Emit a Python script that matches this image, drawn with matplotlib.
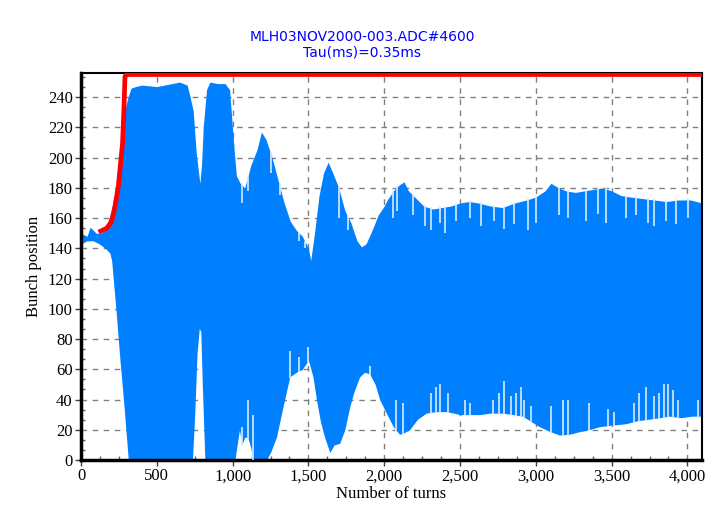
import numpy as np
import matplotlib
matplotlib.use("Agg")
import matplotlib.pyplot as plt
from matplotlib.ticker import MultipleLocator, FuncFormatter

# Envelope of the bunch position signal
upper_turns = [0, 40, 60, 100, 130, 160, 200, 230, 250, 270, 290, 310, 330, 360, 400, 500,
               550, 600, 650, 700, 720, 740, 760, 784, 795, 806, 828, 850, 900, 950, 980,
               995, 1010, 1025, 1050, 1080, 1120, 1160, 1190, 1220, 1260, 1300, 1340, 1380,
               1420, 1460, 1500, 1515, 1540, 1570, 1600, 1630, 1660, 1700, 1740, 1780, 1820,
               1850, 1880, 1920, 1960, 2000, 2020, 2060, 2100, 2130, 2160, 2200, 2260, 2320,
               2380, 2440, 2500, 2560, 2620, 2700, 2780, 2860, 2940, 3000, 3060, 3100, 3150,
               3200, 3260, 3320, 3380, 3440, 3500, 3560, 3620, 3700, 3780, 3860, 3940, 4020,
               4096]
upper_vals = [150, 148, 154, 150, 150, 152, 165, 180, 195, 215, 232, 240, 246, 247, 248, 247,
              248, 249, 250, 248, 240, 231, 203, 183, 195, 220, 245, 250, 249, 249, 245,
              225, 205, 188, 183, 180, 195, 205, 217, 212, 200, 185, 170, 158,
              152, 148, 140, 132, 150, 175, 190, 197, 190, 180, 165, 157, 145,
              141, 143, 152, 162, 168, 172, 178, 182, 184, 178, 174, 168, 166,
              167, 168, 170, 171, 170, 168, 167, 170, 172, 174, 178, 183, 180,
              178, 177, 178, 179, 180, 178, 175, 174, 173, 172, 171, 172, 172,
              170]

lower_turns = [0, 40, 80, 120, 160, 190, 202, 230, 257, 280, 300, 312, 735, 750, 765, 780,
               790, 800, 817, 1015, 1030, 1045, 1060, 1080, 1100, 1120, 1135, 1223, 1250,
               1289, 1332, 1377, 1420, 1460, 1500, 1530, 1553, 1580, 1607, 1641, 1670, 1706,
               1740, 1772, 1800, 1838, 1870, 1904, 1940, 1970, 2014, 2060, 2101, 2130, 2167,
               2220, 2277, 2340, 2409, 2460, 2497, 2560, 2629, 2700, 2780, 2850, 2912, 2960,
               3024, 3090, 3155, 3220, 3287, 3350, 3419, 3500, 3595, 3670, 3748, 3820, 3880,
               3960, 4030, 4096]
lower_vals = [143, 145, 145, 143, 140, 137, 132, 100, 66, 40, 15, 0, 0, 30, 70, 87,
              85, 50, 0, 0, 10, 20, 10, 15, 15, 8, 0, 0, 5,
              15, 35, 55, 58, 60, 66, 55, 40, 25, 15, 5, 10, 11,
              20, 35, 45, 55, 58, 57, 50, 40, 31, 22, 17, 18, 20,
              27, 31, 32, 32, 31, 30, 30, 30, 31, 31, 30, 29, 26,
              22, 19, 16.5, 17, 18.7, 20, 22, 23, 24, 26, 27, 28, 29,
              28, 29, 29]

# Single-turn dips visible on the upper edge (turn, lowest value)
dip_turns = [1060, 1100, 1250, 1310, 1440, 1480, 1700, 1760, 2057, 2082, 2189, 2266,
             2310, 2365, 2398, 2475, 2563, 2640, 2727, 2793, 2859, 2947, 3002, 3155, 3210,
             3331, 3408, 3463, 3595, 3661, 3737, 3781, 3858, 3924, 4001]
dip_vals = [170, 178, 190, 175, 145, 140, 160, 152, 160, 165, 162, 155, 152, 157, 150,
            158, 160, 155, 158, 153, 156, 152, 157, 162, 160, 158, 163, 157, 160, 162, 157,
            155, 158, 156, 160]

# Single-turn peaks visible on the lower edge (turn, highest value)
peak_turns = [1060, 1100, 1135, 1380, 1440, 1500, 1904, 2079, 2123, 2310, 2343, 2365, 2420,
              2530, 2563, 2716, 2760, 2793, 2837, 2870, 2903, 2925, 2969, 3101, 3178, 3210,
              3353, 3474, 3518, 3650, 3683, 3727, 3782, 3815, 3848, 3870, 3903, 3936, 4067]
peak_vals = [22, 40, 30, 72, 68, 75, 62, 40, 38, 44, 48, 50, 44, 40, 38, 40, 44, 52, 42, 44,
             48, 40, 36, 36, 40, 40, 38, 34, 32, 38, 44, 48, 42, 44, 50, 50, 46, 40, 40]

# Threshold (red) curve
red_turns = [116, 169, 202, 224, 246, 261, 274, 283, 290, 300, 4096]
red_vals = [150.7, 153.3, 157.7, 167.7, 180.9, 196.3, 209.5, 231.6, 253.7, 255, 255]

title1 = "MLH03NOV2000-003.ADC#4600"
title2 = "Tau(ms)=0.35ms"

fig = plt.figure(figsize=(7.15, 5.21), dpi=100)
ax = fig.add_axes([0.1133, 0.1171, 0.8685, 0.7428])

xs = np.unique(np.array(upper_turns + lower_turns))
up = np.interp(xs, upper_turns, upper_vals)
lo = np.interp(xs, lower_turns, lower_vals)
ax.fill_between(xs, lo, up, color="#0080ff", linewidth=0, zorder=2)

# dips and peaks as thin light lines cut into the band
dip_top = np.interp(dip_turns, upper_turns, upper_vals)
ax.vlines(dip_turns, dip_vals, dip_top + 1, color="#d8ecff", linewidth=1.2, zorder=3)
peak_bot = np.interp(peak_turns, lower_turns, lower_vals)
ax.vlines(peak_turns, peak_bot - 1, peak_vals, color="#d8ecff", linewidth=1.2, zorder=3)

ax.plot(red_turns, red_vals, color="#ff0000", linewidth=3.4, zorder=4, solid_capstyle="butt")

ax.set_xlim(0, 4096)
ax.set_ylim(0, 256)
ax.xaxis.set_major_locator(MultipleLocator(500))
ax.xaxis.set_minor_locator(MultipleLocator(125))
ax.yaxis.set_major_locator(MultipleLocator(20))
ax.yaxis.set_minor_locator(MultipleLocator(20 / 3))
ax.xaxis.set_major_formatter(FuncFormatter(lambda v, p: f"{int(v):,}"))

ax.grid(True, which="major", color="#808080", linestyle=(0, (4, 4)), linewidth=1, zorder=1)
ax.set_axisbelow(True)

ax.tick_params(axis="both", which="major", direction="out", length=4, width=1,
               labelsize=12, color="#404040", pad=2)
ax.tick_params(axis="both", which="minor", direction="in", length=3, width=1, color="#606060")
for lab in ax.get_xticklabels() + ax.get_yticklabels():
    lab.set_fontfamily("Liberation Serif")

for s in ["left", "bottom"]:
    ax.spines[s].set_linewidth(2.5)
    ax.spines[s].set_color("black")
ax.spines["top"].set_linewidth(1.5)
ax.spines["right"].set_linewidth(1.5)

ax.set_xlabel("Number of turns", fontsize=12, family="Liberation Serif", labelpad=1)
ax.set_ylabel("Bunch position", fontsize=12, family="Liberation Serif", labelpad=4)

fig.text(362 / 715, 1 - 37 / 521, title1, color="#0000ff", fontsize=10,
         ha="center", va="center", family="DejaVu Sans")
fig.text(362 / 715, 1 - 52 / 521, title2, color="#0000ff", fontsize=10,
         ha="center", va="center", family="DejaVu Sans")

fig.savefig("out.png", dpi=100)
